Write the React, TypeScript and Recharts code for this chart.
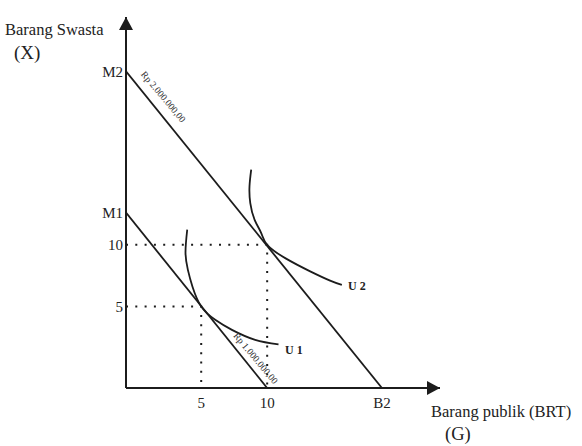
import React from 'react';
import { LineChart, Line, XAxis, YAxis, ReferenceDot } from 'recharts';

// axis domain (axis lines sit at the domain minimums)
const X_MIN = -0.7;
const X_MAX = 23.1;
const Y_MIN = -1.6;
const Y_MAX = 28.45;

const xTicks = [5, 10, 18.7];
const xTickLabels = ['5', '10', 'B2'];
const yTicks = [5, 10, 12.6, 24.05];
const yTickLabels = ['5', '10', 'M1', 'M2'];

const budget1 = [
  { x: X_MIN, y: 12.6 },
  { x: 10, y: Y_MIN },
];
const budget2 = [
  { x: X_MIN, y: 24.05 },
  { x: 18.7, y: Y_MIN },
];
const u1 = [
  { x: 3.94, y: 11.22 },
  { x: 3.81, y: 9.35 },
  { x: 3.99, y: 7.97 },
  { x: 4.34, y: 6.6 },
  { x: 5, y: 5 },
  { x: 6.06, y: 3.92 },
  { x: 7.33, y: 3.11 },
  { x: 9.09, y: 2.3 },
  { x: 10.86, y: 1.94 },
];
const u2 = [
  { x: 8.79, y: 16.08 },
  { x: 8.66, y: 14.72 },
  { x: 8.72, y: 13.38 },
  { x: 9.05, y: 12.02 },
  { x: 9.55, y: 10.95 },
  { x: 10, y: 10 },
  { x: 11.4, y: 8.9 },
  { x: 13.26, y: 7.85 },
  { x: 14.77, y: 7.1 },
  { x: 15.66, y: 6.75 },
];
const guide5 = [
  { x: X_MIN, y: 5 },
  { x: 5, y: 5 },
  { x: 5, y: Y_MIN },
];
const guide10 = [
  { x: X_MIN, y: 10 },
  { x: 10, y: 10 },
  { x: 10, y: Y_MIN },
];

const SERIF = '"Liberation Serif", "Times New Roman", serif';
const INK = '#1c1c1c';

const upArrow = (p: any) => (
  <polygon
    points={`${p.cx},${p.cy} ${p.cx - 7},${p.cy + 13} ${p.cx + 7},${p.cy + 13}`}
    fill={INK}
  />
);
const rightArrow = (p: any) => (
  <polygon
    points={`${p.cx},${p.cy} ${p.cx - 13},${p.cy - 7} ${p.cx - 13},${p.cy + 7}`}
    fill={INK}
  />
);
const rotLabel = (text: string) => (p: any) => (
  <text
    x={p.cx}
    y={p.cy}
    transform={`rotate(50 ${p.cx} ${p.cy})`}
    textAnchor="middle"
    dominantBaseline="central"
    fontFamily={SERIF}
    fontSize={9.5}
    fill="#333"
  >
    {text}
  </text>
);

export default function App() {
  return (
    <div style={{ position: 'relative', width: 582, height: 446, background: '#fff' }}>
      <style>{`body{margin:0;background:#fff}`}</style>
      <LineChart
        width={582}
        height={446}
        margin={{ top: 17, right: 142, bottom: 28, left: 86 }}
      >
        <XAxis
          type="number"
          dataKey="x"
          domain={[X_MIN, X_MAX]}
          allowDataOverflow
          ticks={xTicks}
          interval={0}
          tickFormatter={(v: number) => xTickLabels[xTicks.indexOf(v)] ?? ''}
          tickLine={false}
          tickSize={0}
          tickMargin={9}
          height={30}
          axisLine={{ stroke: INK, strokeWidth: 2 }}
          tick={{ fill: '#222', fontSize: 15, fontFamily: SERIF }}
        />
        <YAxis
          type="number"
          dataKey="y"
          domain={[Y_MIN, Y_MAX]}
          allowDataOverflow
          ticks={yTicks}
          interval={0}
          tickFormatter={(v: number) => yTickLabels[yTicks.indexOf(v)] ?? ''}
          tickLine={false}
          tickSize={0}
          tickMargin={3}
          width={40}
          axisLine={{ stroke: INK, strokeWidth: 2 }}
          tick={{ fill: '#222', fontSize: 15, fontFamily: SERIF }}
        />
        <Line data={guide10} dataKey="y" name="g10" type="linear" stroke={INK} strokeWidth={2} strokeDasharray="2 7.3" dot={false} isAnimationActive={false} />
        <Line data={guide5} dataKey="y" name="g5" type="linear" stroke={INK} strokeWidth={2} strokeDasharray="2 7.3" dot={false} isAnimationActive={false} />
        <Line data={budget1} dataKey="y" name="b1" type="linear" stroke={INK} strokeWidth={1.8} dot={false} isAnimationActive={false} />
        <Line data={budget2} dataKey="y" name="b2" type="linear" stroke={INK} strokeWidth={1.8} dot={false} isAnimationActive={false} />
        <Line data={u1} dataKey="y" name="u1" type="natural" stroke={INK} strokeWidth={1.8} dot={false} isAnimationActive={false} />
        <Line data={u2} dataKey="y" name="u2" type="natural" stroke={INK} strokeWidth={1.8} dot={false} isAnimationActive={false} />
        <ReferenceDot x={X_MIN} y={Y_MAX} ifOverflow="visible" shape={upArrow} />
        <ReferenceDot x={X_MAX} y={Y_MIN} ifOverflow="visible" shape={rightArrow} />
        <ReferenceDot x={2.12} y={21.98} ifOverflow="visible" shape={rotLabel('Rp 2.000.000,00')} />
        <ReferenceDot x={9.12} y={0.8} ifOverflow="visible" shape={rotLabel('Rp 1.000.000,00')} />
      </LineChart>
      <svg
        width={582}
        height={446}
        style={{ position: 'absolute', left: 0, top: 0, pointerEvents: 'none' }}
      >
        <g fontFamily={SERIF} fill="#222">
          <text x={5} y={35} fontSize={16.5}>Barang Swasta</text>
          <text x={14} y={58.5} fontSize={19}>(X)</text>
          <text x={431} y={416.5} fontSize={16.5}>Barang publik (BRT)</text>
          <text x={445} y={440} fontSize={18.5}>(G)</text>
          <text x={348} y={290} fontSize={12} fontWeight="bold">U 2</text>
          <text x={285} y={353.5} fontSize={12} fontWeight="bold">U 1</text>
        </g>
      </svg>
    </div>
  );
}
